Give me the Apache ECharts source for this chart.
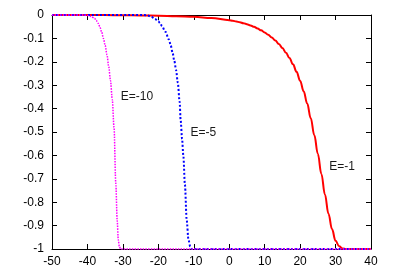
<!DOCTYPE html>
<html>
<head>
<meta charset="utf-8">
<script src="https://cdn.jsdelivr.net/npm/echarts@6/dist/echarts.min.js"></script>
<style>
html,body{margin:0;padding:0;background:#fff;}
#chart{width:393px;height:275px;}
</style>
</head>
<body>
<div id="chart"></div>
<script>
// Series data: [x, y]
var curveE10 = [[-50,0],[-41,0],[-40,-0.002],[-39,-0.006],[-38,-0.014],[-37.5,-0.024],[-37,-0.035],[-36.5,-0.05],[-36,-0.072],[-35.5,-0.1],[-35,-0.13],[-34.5,-0.17],[-34,-0.22],[-33.5,-0.28],[-33,-0.36],[-32.5,-0.48],[-32,-0.72],[-31.6,-0.88],[-31.3,-0.96],[-31,-0.99],[-30.6,-1],[-30,-1],[40,-1]];
var curveE5 = [[-50,0],[-24,0],[-23,-0.002],[-22,-0.007],[-21,-0.016],[-20,-0.027],[-19.5,-0.035],[-19,-0.046],[-18,-0.072],[-17,-0.105],[-16.5,-0.13],[-16,-0.16],[-15.5,-0.195],[-15,-0.235],[-14.5,-0.29],[-14,-0.37],[-13.7,-0.45],[-13.3,-0.53],[-12.95,-0.6],[-12.5,-0.725],[-12,-0.876],[-11.5,-0.96],[-11,-0.99],[-10.5,-1],[40,-1]];
var curveE1 = [[-50,0],[-45,0],[-40,0],[-35,-0.0005],[-30,-0.001],[-25,-0.002],[-20,-0.003],[-15,-0.005],[-10,-0.008],[-5,-0.013],
  [0,-0.022],[1,-0.0245],[2,-0.0275],[3,-0.031],[4,-0.035],[5,-0.0395],[6,-0.0445],[7,-0.0505],[8,-0.0575],[9,-0.0655],
  [10,-0.0745],[11,-0.0845],[12,-0.096],[13,-0.109],[14,-0.124],[15,-0.141],[16,-0.161],[17,-0.184],[18,-0.211],[19,-0.243],
  [20,-0.281],[21,-0.326],[22,-0.378],[23,-0.441],[24,-0.513],[25,-0.593],[26,-0.679],[27,-0.767],[28,-0.849],[29,-0.915],
  [30,-0.965],[31,-0.988],[32,-0.998],[33,-1],[40,-1]];
var seriesNames = ['E=-1','E=-5','E=-10'];
// label anchors (left edge, vertical middle) in data coords
var labelE1 = [28.2,-0.648];
var labelE5 = [-10.9,-0.503];
var labelE10 = [-30.6,-0.349];
var xMin = -50, xMax = 40, xStep = 10;
var yMin = -1, yMax = 0, yStep = 0.1;

var chart = echarts.init(document.getElementById('chart'), null, {renderer:'canvas'});
var font = 'Liberation Sans, Arial, Helvetica, sans-serif';
function mk(coord, name){
  return {
    symbol:'circle', symbolSize:0, silent:true, animation:false,
    data:[{coord:coord, value:name}],
    label:{show:true, position:'right', distance:0, formatter:name, color:'#1a1a1a', fontSize:12, fontFamily:font}
  };
}
var axisCommon = {
  axisLine:{show:true, onZero:false, lineStyle:{color:'#000', width:1}},
  axisTick:{show:true, inside:true, length:5, lineStyle:{color:'#000', width:1}},
  splitLine:{show:false}
};
chart.setOption({
  animation:false,
  backgroundColor:'#fff',
  grid:{left:52, right:22, top:15, bottom:26, containLabel:false},
  xAxis:[
    Object.assign({}, axisCommon, {type:'value', position:'bottom', min:xMin, max:xMax, interval:xStep,
      axisLabel:{show:true, color:'#000', fontSize:12, fontFamily:font, margin:7}}),
    Object.assign({}, axisCommon, {type:'value', position:'top', min:xMin, max:xMax, interval:xStep,
      axisLabel:{show:false}})
  ],
  yAxis:[
    Object.assign({}, axisCommon, {type:'value', position:'left', min:yMin, max:yMax, interval:yStep,
      axisLabel:{show:true, color:'#000', fontSize:12, fontFamily:font, margin:8,
        formatter:function(v){ var r = Math.round(v*10)/10; return r===0 ? '0' : String(r); }}}),
    Object.assign({}, axisCommon, {type:'value', position:'right', min:yMin, max:yMax, interval:yStep,
      axisLabel:{show:false}})
  ],
  series:[
    {name:seriesNames[0], type:'line', data:curveE1, smooth:0.4, smoothMonotone:'x', showSymbol:false, clip:false,
      lineStyle:{color:'#ff0000', width:2}, itemStyle:{color:'#ff0000'}, markPoint:mk(labelE1, seriesNames[0])},
    {name:seriesNames[1], type:'line', data:curveE5, smooth:0.3, smoothMonotone:'x', showSymbol:false, clip:false,
      lineStyle:{color:'#0000ff', width:2, type:[2,2]}, itemStyle:{color:'#0000ff'}, markPoint:mk(labelE5, seriesNames[1])},
    {name:seriesNames[2], type:'line', data:curveE10, smooth:0.3, smoothMonotone:'x', showSymbol:false, clip:false,
      lineStyle:{color:'#ff00ff', width:1.5, type:[1.5,1.2]}, itemStyle:{color:'#ff00ff'}, markPoint:mk(labelE10, seriesNames[2])}
  ]
});
</script>
</body>
</html>
